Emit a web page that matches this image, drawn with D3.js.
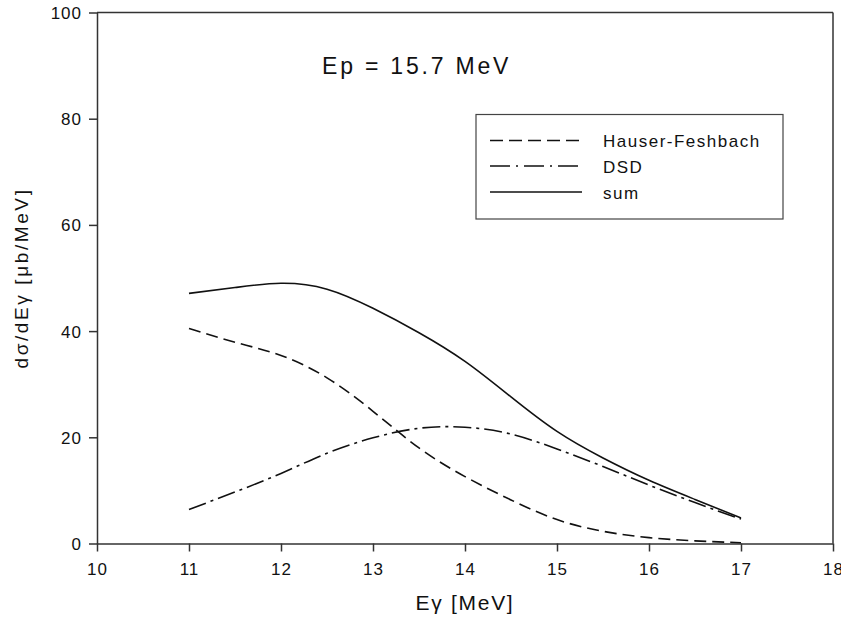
<!DOCTYPE html>
<html>
<head>
<meta charset="utf-8">
<script src="https://cdn.jsdelivr.net/npm/d3@7"></script>
<style>
  html, body { margin: 0; padding: 0; background: #fff; }
  svg { display: block; }
  text { font-family: "Liberation Sans", Arial, Helvetica, sans-serif; fill: #111; }
</style>
</head>
<body>
<svg id="chart" width="841" height="618"></svg>
<script>
// ---- data ----
const energies = [11, 11.5, 12, 12.5, 13, 13.5, 14, 14.5, 15, 15.5, 16, 16.5, 17];
const hauserFeshbach = [40.5, 37.9, 35.4, 31.2, 24.9, 18.0, 12.6, 8.2, 4.5, 2.3, 1.1, 0.5, 0.15];
const dsd = [6.4, 9.7, 13.2, 17.0, 19.9, 21.7, 21.9, 20.6, 17.8, 14.5, 11.0, 7.7, 4.6];
const sum = [47.1, 48.2, 49.0, 47.9, 44.3, 39.7, 34.3, 27.6, 21.1, 16.1, 11.9, 8.3, 4.8];
const xTicks = [10, 11, 12, 13, 14, 15, 16, 17, 18];
const yTicks = [0, 20, 40, 60, 80, 100];
const seriesNames = ["Hauser-Feshbach", "DSD", "sum"];
const annotation = "Ep = 15.7 MeV";
const xTitle = "E\u03b3 [MeV]";
const yTitle = "d\u03c3/dE\u03b3  [\u03bcb/MeV]";

// ---- layout ----
const svg = d3.select("#chart");
const mLeft = 97, mRight = 833, mTop = 12.5, mBottom = 543.5;
const x = d3.scaleLinear().domain([10, 18]).range([mLeft, mRight]);
const y = d3.scaleLinear().domain([0, 100]).range([mBottom, mTop]);

const axisColor = "#333";
const dashes = {
  "Hauser-Feshbach": "12,6",
  "DSD": "18,5,3,5",
  "sum": null
};
const legendDashes = {
  "Hauser-Feshbach": "13,6",
  "DSD": "20,6,2,6",
  "sum": null
};
const seriesData = [
  { name: seriesNames[0], values: hauserFeshbach },
  { name: seriesNames[1], values: dsd },
  { name: seriesNames[2], values: sum }
];

// frame (top & right)
svg.append("line").attr("x1", mLeft).attr("x2", mRight).attr("y1", mTop).attr("y2", mTop)
  .attr("stroke", axisColor).attr("stroke-width", 1.5);
svg.append("line").attr("x1", mRight).attr("x2", mRight).attr("y1", mTop).attr("y2", mBottom)
  .attr("stroke", axisColor).attr("stroke-width", 1.5);

// axes
const xAxis = svg.append("g").attr("transform", `translate(0,${mBottom})`)
  .call(d3.axisBottom(x).tickValues(xTicks).tickFormat(d3.format("d")).tickSize(8).tickSizeOuter(0));
const yAxis = svg.append("g").attr("transform", `translate(${mLeft},0)`)
  .call(d3.axisLeft(y).tickValues(yTicks).tickFormat(d3.format("d")).tickSize(8).tickSizeOuter(0));
[xAxis, yAxis].forEach(g => {
  g.select(".domain").attr("stroke", axisColor).attr("stroke-width", 1.5);
  g.selectAll(".tick line").attr("stroke", axisColor).attr("stroke-width", 1.5);
  g.selectAll(".tick text").attr("font-size", 17).attr("fill", "#111")
    .attr("font-family", "Liberation Sans, Arial, sans-serif").style("letter-spacing", "1px");
});
xAxis.selectAll(".tick text").attr("dy", "0").attr("y", 31);
yAxis.selectAll(".tick text").attr("x", -15).attr("dy", "0.35em");

// axis titles
svg.append("text").attr("x", (mLeft + mRight) / 2).attr("y", 610)
  .attr("text-anchor", "middle").attr("font-size", 21).style("letter-spacing", "1.7px")
  .text(xTitle);
svg.append("text").attr("transform", `translate(28,${(mTop + mBottom) / 2}) rotate(-90)`)
  .attr("text-anchor", "middle").attr("font-size", 19).style("letter-spacing", "2.6px")
  .text(yTitle);

// annotation
svg.append("text").attr("x", 322).attr("y", 73.5)
  .attr("font-size", 23).style("letter-spacing", "2.8px").text(annotation);

// curves
const line = d3.line().x((d, i) => x(energies[i])).y(d => y(d)).curve(d3.curveNatural);
svg.append("g").selectAll("path").data(seriesData).join("path")
  .attr("d", d => line(d.values))
  .attr("fill", "none").attr("stroke", "#111").attr("stroke-width", 1.6)
  .attr("stroke-dasharray", d => dashes[d.name]);

// legend
const lg = svg.append("g");
lg.append("rect").attr("x", 476).attr("y", 114.5).attr("width", 307).attr("height", 104.5)
  .attr("fill", "#fff").attr("stroke", "#444").attr("stroke-width", 1.2);
const rowY = [140.5, 166, 192];
seriesData.forEach((s, i) => {
  lg.append("line").attr("x1", 490).attr("x2", 582).attr("y1", rowY[i]).attr("y2", rowY[i])
    .attr("stroke", "#111").attr("stroke-width", 1.6)
    .attr("stroke-dasharray", legendDashes[s.name]);
  lg.append("text").attr("x", 603).attr("y", rowY[i] + 6.5)
    .attr("font-size", 17).style("letter-spacing", "1.5px").text(s.name);
});
</script>
</body>
</html>
